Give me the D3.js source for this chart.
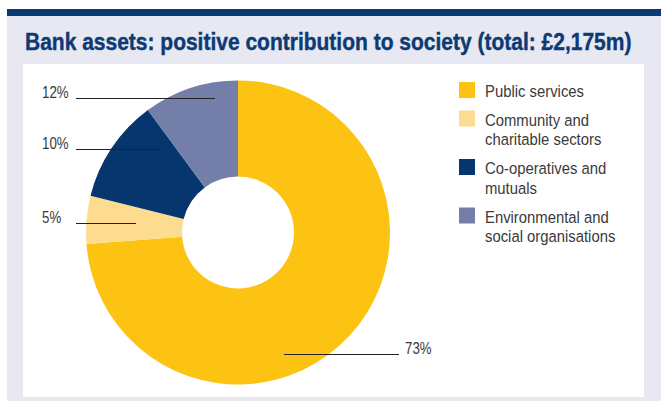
<!DOCTYPE html>
<html>
<head>
<meta charset="utf-8">
<script src="https://cdn.jsdelivr.net/npm/d3@7"></script>
<style>
  html, body { margin: 0; padding: 0; background: #fff; }
  svg { display: block; }
</style>
</head>
<body>
<svg id="chart"></svg>
<script>
// Data
const categories = ['Public services', 'Community and charitable sectors', 'Co-operatives and mutuals', 'Environmental and social organisations'];
const shares = [73.8, 5.1, 11.0, 10.1];
const pctLabels = ['73%', '5%', '10%', '12%'];
const legendLines = [['Public services'], ['Community and', 'charitable sectors'], ['Co-operatives and', 'mutuals'], ['Environmental and', 'social organisations']];
const colors = ['#fdc312', '#fedc8f', '#07366f', '#737fa8'];

// Label callouts: y of line, line start/end x, text side
const callouts = [
  { y: 354, x0: 284, x1: 399, side: 'right' },
  { y: 223, x0: 76, x1: 136, side: 'left' },
  { y: 149, x0: 76, x1: 161, side: 'left' },
  { y: 98, x0: 76, x1: 215, side: 'left' }
];

const width = 661;
const height = 401;
const svg = d3.select('#chart').attr('width', width).attr('height', height);

// Frame
svg.append('rect').attr('x', 7).attr('y', 16).attr('width', 654).attr('height', 385).attr('fill', '#e7e8f1');
svg.append('rect').attr('x', 7).attr('y', 9).attr('width', 654).attr('height', 7).attr('fill', '#0a3873');
svg.append('rect').attr('x', 23).attr('y', 64).attr('width', 621).attr('height', 333).attr('fill', '#fff');

// Title (condensed by squeezing a regular bold face to the reference width)
const title = svg.append('text')
  .attr('font-family', '"Liberation Sans", Arial, sans-serif')
  .attr('font-weight', 'bold')
  .attr('font-size', 23.5)
  .attr('fill', '#0b3a75')
  .attr('stroke', '#0b3a75')
  .attr('stroke-width', 0.4)
  .text('Bank assets: positive contribution to society (total: \u00a32,175m)');
const titleLen = title.node().getComputedTextLength();
title.attr('transform', `translate(25,50) scale(${607 / titleLen},1)`);

// Donut
const cx = 238, cy = 232.5;
const pie = d3.pie().sort(null).value(d => d);
const arc = d3.arc().innerRadius(56).outerRadius(152);

const g = svg.append('g').attr('transform', `translate(${cx},${cy})`);
g.selectAll('path')
  .data(pie(shares))
  .enter()
  .append('path')
  .attr('d', arc)
  .attr('fill', (d, i) => colors[i]);

// Callout lines and labels
const labelFont = '"Liberation Sans", Arial, sans-serif';
callouts.forEach((c, i) => {
  svg.append('line')
    .attr('x1', c.x0).attr('x2', c.x1)
    .attr('y1', c.y + 0.5).attr('y2', c.y + 0.5)
    .attr('stroke', '#222').attr('stroke-width', 1);
  const tx = c.side === 'left' ? 42 : c.x1 + 6;
  svg.append('text')
    .attr('transform', `translate(${tx},${c.y}) scale(0.83,1)`)
    .attr('font-family', labelFont)
    .attr('font-size', 16)
    .attr('fill', '#3a3a3a')
    .text(pctLabels[i]);
});

// Legend
const legend = svg.append('g').attr('transform', 'translate(459,82)');
let yOff = 0;
categories.forEach((cat, i) => {
  const row = legend.append('g').attr('transform', `translate(0,${yOff})`);
  row.append('rect').attr('width', 16).attr('height', 16).attr('fill', colors[i]);
  row.append('text')
    .attr('transform', 'translate(26,15) scale(0.9,1)')
    .attr('font-family', labelFont)
    .attr('font-size', 16.5)
    .attr('fill', '#3a3a3a')
    .selectAll('tspan')
    .data(legendLines[i])
    .enter()
    .append('tspan')
    .attr('x', 0)
    .attr('dy', (d, j) => j === 0 ? 0 : 20)
    .text(d => d);
  yOff += legendLines[i].length * 20 + 8.5;
});
</script>
</body>
</html>
